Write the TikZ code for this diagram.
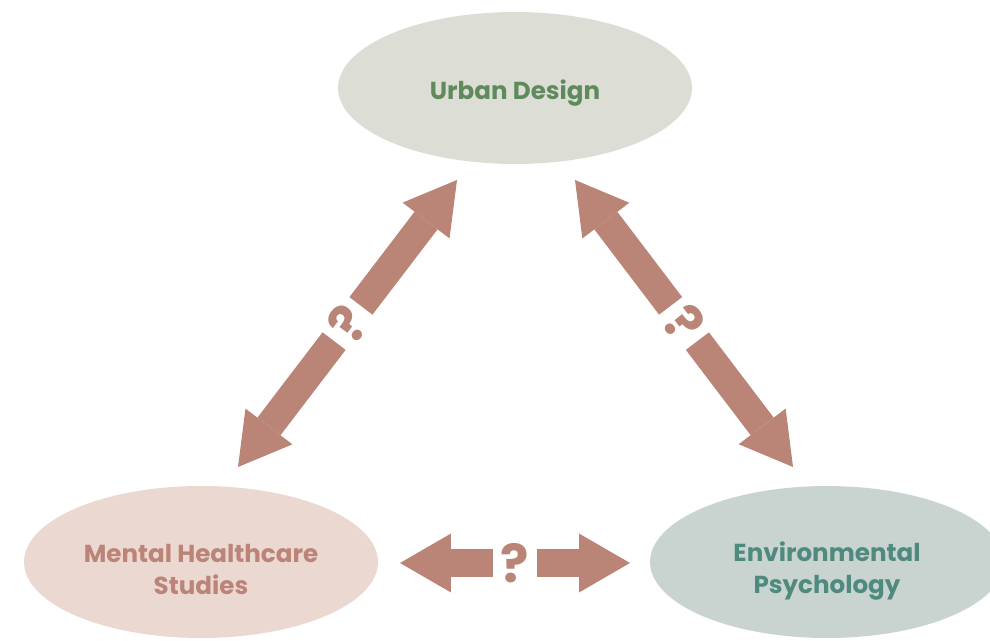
\documentclass[tikz,border=0pt]{standalone}
\usepackage{fontspec}
\setmainfont{Poppins}
\usetikzlibrary{arrows.meta, positioning, shapes.geometric}

\definecolor{arrowred}{RGB}{186,132,119}
\definecolor{udfill}{RGB}{220,222,214}
\definecolor{udtext}{RGB}{95,138,92}
\definecolor{mhfill}{RGB}{235,216,208}
\definecolor{mhtext}{RGB}{188,132,120}
\definecolor{epfill}{RGB}{201,212,208}
\definecolor{eptext}{RGB}{78,138,126}

\begin{document}
\begin{tikzpicture}[x=0.02cm, y=-0.02cm,
    field/.style={ellipse, draw=none, minimum width=7.08cm, minimum height=3.04cm, inner sep=0pt},
    fieldtext/.style={inner sep=0pt, align=center, font=\bfseries\fontsize{14}{18.7}\selectfont},
    link/.style={arrowred, line width=0.58cm,
                 {Triangle[length=1.02cm, width=1.18cm, line width=0pt]}-{Triangle[length=1.02cm, width=1.18cm, line width=0pt]}},
    qmark/.style={fill=white, text=arrowred, minimum width=0.88cm, minimum height=0.7cm,
                  inner sep=0pt, font=\bfseries\fontsize{30}{30}\selectfont}]

    \useasboundingbox (0,0) rectangle (990,641);

    % The three fields
    \node[field, fill=udfill,
          label={[fieldtext, text=udtext, name=ud-t, yshift=-0.1cm]center:Urban Design}] (ud) at (515,88) {};
    \node[field, fill=mhfill,
          label={[fieldtext, text=mhtext, name=mh-t, yshift=-0.15cm]center:Mental Healthcare\\Studies}] (mh) at (201,562) {};
    \node[field, fill=epfill,
          label={[fieldtext, text=eptext, name=ep-t, yshift=-0.18cm]center:Environmental\\Psychology}] (ep) at (827,562) {};

    % Arrow ends
    \coordinate (ud-l) at (457,180);
    \coordinate (mh-u) at (238,467);
    \coordinate (ud-r) at (575,180);
    \coordinate (ep-u) at (793,467);
    \coordinate (mh-r) at (400,563);
    \coordinate (ep-l) at (630,563);

    % Links with question marks
    \draw[link] (ud-l) -- (mh-u) node[midway, sloped, qmark] {?};
    \draw[link] (ud-r) -- (ep-u) node[midway, sloped, qmark] {?};
    \draw[link] (mh-r) -- (ep-l) node[midway, sloped, qmark] {?};

\end{tikzpicture}
\end{document}
